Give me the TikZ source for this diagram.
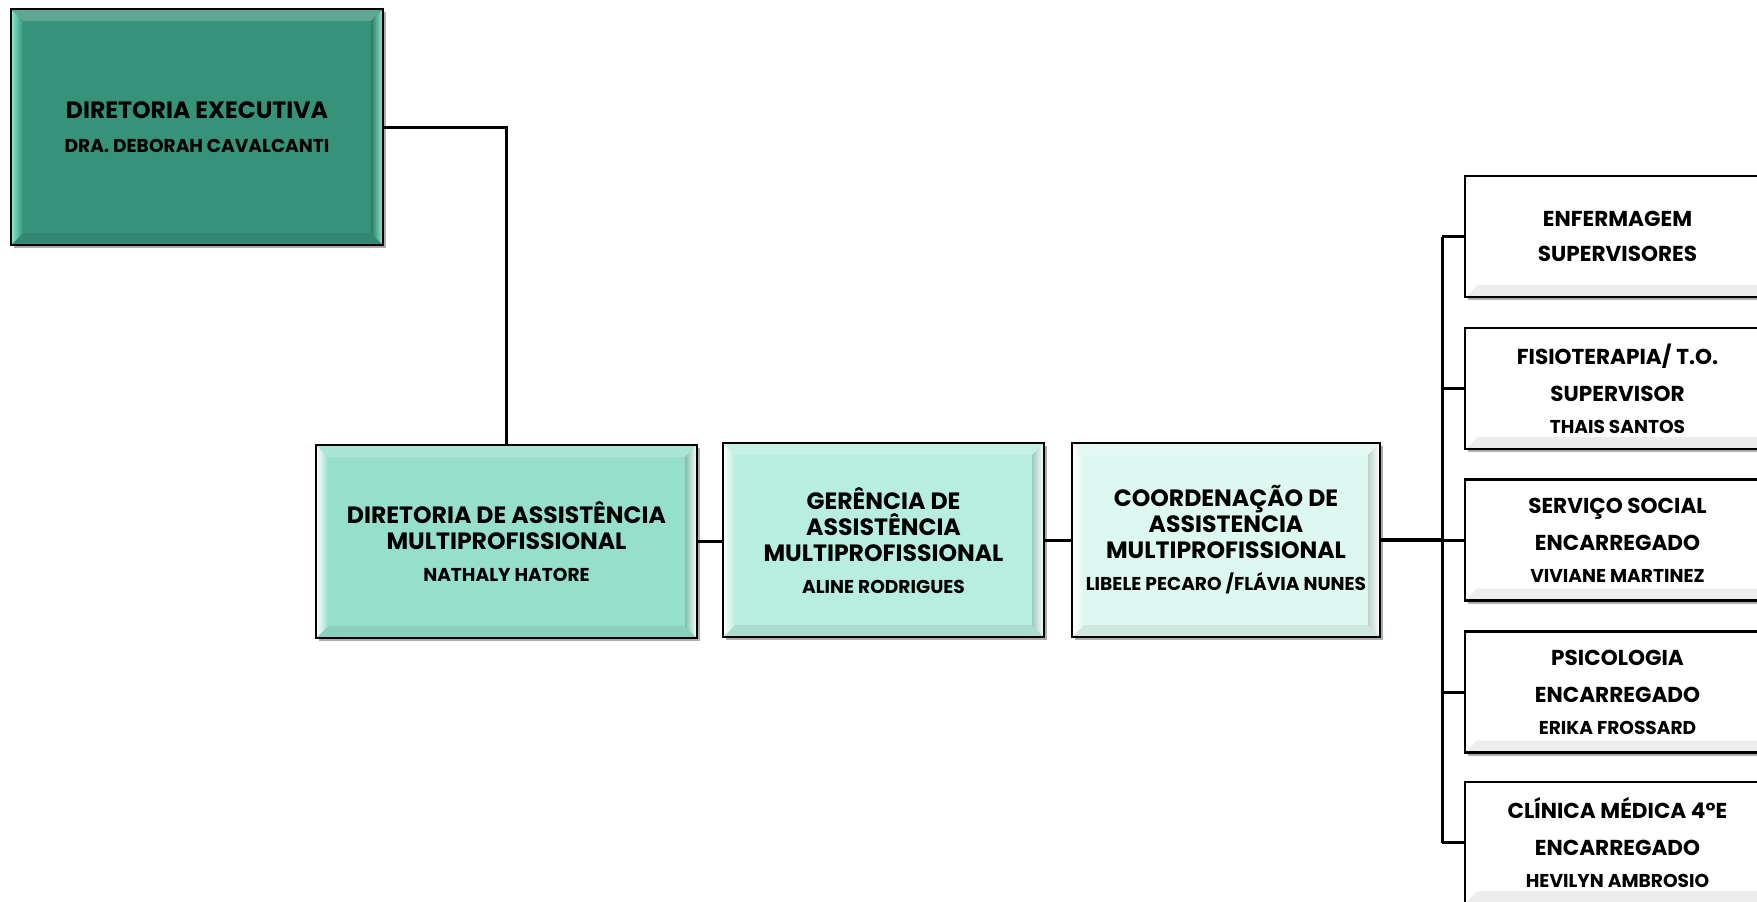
\documentclass[tikz,border=0pt]{standalone}
\usepackage{fontspec}
\setmainfont{Poppins}
\usetikzlibrary{shadows}
\definecolor{execc}{HTML}{369278}
\definecolor{execl}{HTML}{86EDCF}
\definecolor{damc}{HTML}{96E0CB}
\definecolor{gamc}{HTML}{B8EEDF}
\definecolor{camc}{HTML}{DDF8F0}
\definecolor{whc}{HTML}{FFFFFF}
\newcommand{\namefnt}{\fontsize{9.3}{13}\selectfont}
\newcommand{\rnamefnt}{\fontsize{9.3}{16}\selectfont}
\tikzset{
  bevelbox/.style n args={3}{draw=black, line width=1.3pt, fill=#1, inner sep=0pt, align=center,
    drop shadow={shadow xshift=1.6pt, shadow yshift=-1.6pt, opacity=0.45, fill=black!70},
    path picture={
      \path (path picture bounding box.north west) coordinate (pnw)
            (path picture bounding box.north east) coordinate (pne)
            (path picture bounding box.south west) coordinate (psw)
            (path picture bounding box.south east) coordinate (pse);
      \fill[#1!80!white] (pnw) -- (pne) -- ([shift={(-6pt,-6pt)}]pne) -- ([shift={(6pt,-6pt)}]pnw) -- cycle;
      \fill[#1!93!black] (psw) -- (pse) -- ([shift={(-6pt,6pt)}]pse) -- ([shift={(6pt,6pt)}]psw) -- cycle;
      \shade[left color=#2, right color=#1] (pnw) -- ([shift={(6pt,-6pt)}]pnw) -- ([shift={(6pt,6pt)}]psw) -- (psw) -- cycle;
      \shade[left color=#1!85!black, right color=#3] (pne) -- ([shift={(-6pt,-6pt)}]pne) -- ([shift={(-6pt,6pt)}]pse) -- (pse) -- cycle;
    }},
  mainbox/.style={font=\bfseries\fontsize{11.8}{13}\selectfont},
  rbox/.style={bevelbox={whc}{white}{black!6}, minimum width=152.5pt, minimum height=60.5pt,
    font=\bfseries\fontsize{10.8}{16}\selectfont},
  conn/.style={line width=1.5pt, draw=black},
}
\begin{document}
\begin{tikzpicture}[x=0.5pt, y=-0.5pt]
\useasboundingbox (0,0) rectangle (1757,901);
\clip (0,0) rectangle (1757,901);
\fill[white] (0,0) rectangle (1757,901);

\node[bevelbox={execc}{execl}{execl}, minimum width=186pt, minimum height=118pt,
  font=\bfseries\fontsize{11.8}{13}\selectfont] (exec) at (197,127)
  {DIRETORIA EXECUTIVA\\[4pt]{\namefnt DRA. DEBORAH CAVALCANTI}};

\node[bevelbox={damc}{white}{white}, mainbox, minimum width=190.5pt, minimum height=96.5pt] (dam) at (506.5,541.5)
  {DIRETORIA DE ASSISTÊNCIA\\MULTIPROFISSIONAL\\[3pt]{\namefnt NATHALY HATORE}};

\node[bevelbox={gamc}{white}{white}, mainbox, minimum width=160.5pt, minimum height=97pt] (gam) at (883.5,540)
  {GERÊNCIA DE\\ASSISTÊNCIA\\MULTIPROFISSIONAL\\[3pt]{\namefnt ALINE RODRIGUES}};

\node[bevelbox={camc}{white}{white}, mainbox, minimum width=154pt, minimum height=97pt] (cam) at (1226,540)
  {COORDENAÇÃO DE\\ASSISTENCIA\\MULTIPROFISSIONAL\\[3pt]{\namefnt LIBELE PECARO /FLÁVIA NUNES}};

\node[rbox] (r1) at (1617.5,236.5) {ENFERMAGEM\\[1.5pt]SUPERVISORES};
\node[rbox] (r2) at (1617.5,388.5) {FISIOTERAPIA/ T.O.\\[2.5pt]SUPERVISOR\\{\rnamefnt THAIS SANTOS}};
\node[rbox] (r3) at (1617.5,540) {SERVIÇO SOCIAL\\[2.5pt]ENCARREGADO\\{\rnamefnt VIVIANE MARTINEZ}};
\node[rbox] (r4) at (1617.5,692) {PSICOLOGIA\\[2.5pt]ENCARREGADO\\{\rnamefnt ERIKA FROSSARD}};
\node[rbox] (r5) at (1617.5,842.5) {CLÍNICA MÉDICA 4°E\\[2.5pt]ENCARREGADO\\{\rnamefnt HEVILYN AMBROSIO}};

\draw[conn] (exec.east) -| (dam.north);
\draw[conn] (dam.east) -- (gam.west |- dam.east);
\draw[conn] (gam.east) -- (cam.west |- gam.east);
\coordinate (bus) at (1442,540);
\draw[conn, line width=2pt] (cam.east) -- (bus);
\draw[conn] (bus |- r1.west) -- (bus |- r5.west);
\foreach \i in {1,...,5} { \draw[conn] (bus |- r\i.west) -- (r\i.west); }
\end{tikzpicture}
\end{document}
